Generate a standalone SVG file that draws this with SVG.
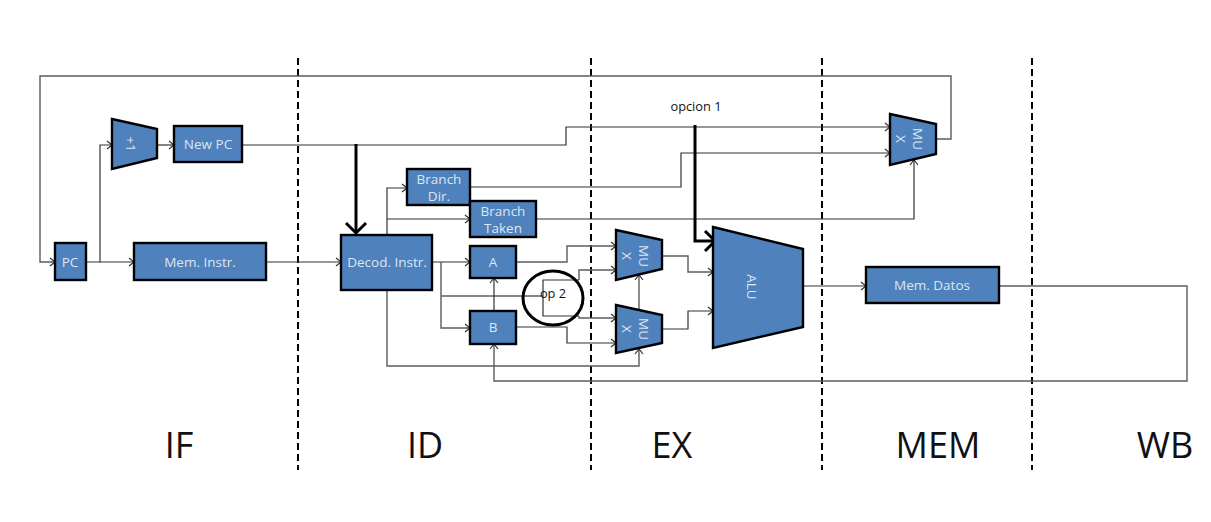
<svg xmlns="http://www.w3.org/2000/svg" width="1211" height="522" viewBox="0 0 1211 522">
<style>
.n{fill:#4f81bd;stroke:#000;stroke-width:2.4;stroke-linejoin:miter}
.t{font-family:"Open Sans","Liberation Sans",sans-serif;font-size:13.5px;fill:#dce6f2;text-anchor:middle}
.w{fill:none;stroke:#333;stroke-width:1.2;marker-end:url(#a)}
.p{fill:none;stroke:#333;stroke-width:1.2}
.g{stroke:#5c5c5c;stroke-width:1.4}
.d{fill:none;stroke:#000;stroke-width:2;stroke-dasharray:7 4}
.h{fill:none;stroke:#000;stroke-width:3}
.s{font-family:"Open Sans","Liberation Sans",sans-serif;font-size:36px;fill:#111;text-anchor:middle}
.l{font-family:"Open Sans","Liberation Sans",sans-serif;font-size:12.8px;fill:#111;text-anchor:middle}
</style>
<defs>
<marker id="a" markerUnits="userSpaceOnUse" markerWidth="9" markerHeight="10" refX="8" refY="5" orient="auto"><path d="M3 1L8 5L3 9" fill="none" stroke="#333" stroke-width="1.2"/></marker>
<marker id="b" markerUnits="userSpaceOnUse" markerWidth="24" markerHeight="24" refX="20" refY="12" orient="auto"><path d="M10 2L20 12L10 22" fill="none" stroke="#000" stroke-width="3"/></marker>
</defs>
<g id="stage-lines">
<path class="d" d="M298 58V470M591 58V470M822 58V470M1032 58V470"/>
</g>
<g id="connectors">
<path class="w g" d="M936 139H951V76H40V262H55"/>
<path class="w" d="M86 262H100V145H112"/>
<path class="w" d="M100 262H134"/>
<path class="w" d="M157 145H174"/>
<path class="w" d="M242 145H566V127H890"/>
<path class="w" d="M266 262H341"/>
<path class="w" d="M387 235V188H407"/>
<path class="w" d="M387 219H470"/>
<path class="w" d="M470 187H681V153H890"/>
<path class="w" d="M536 219H914V160"/>
<path class="w" d="M432 262H470"/>
<path class="w g" d="M441 262V328H470"/>
<path class="p g" d="M441 296H543"/>
<path class="w g" d="M579 280V270H616"/>
<path class="p" d="M579 280H543V316H579"/>
<path class="w g" d="M579 316V318H616"/>
<path class="w g" d="M516 262H567V246H616"/>
<path class="w" d="M516 327H567V343H616"/>
<path class="w" d="M494 311V278"/>
<path class="w g" d="M387 290V366H639V349"/>
<path class="w g" d="M639 309V275"/>
<path class="w g" d="M662 256H688V272H713"/>
<path class="w" d="M662 329H688V311H713"/>
<path class="w" d="M803 286H866"/>
<path class="w g" d="M999 286H1187V381H494V344"/>
<path d="M356 144V233" class="h" marker-end="url(#b)"/>
<path d="M695 125V241H715" class="h" marker-end="url(#b)"/>
<ellipse cx="553" cy="298" rx="30" ry="27" fill="none" stroke="#000" stroke-width="3"/>
</g>
<g id="pc"><rect class="n" x="55" y="243" width="31" height="37"/><text class="t" x="70" y="266.500">PC</text></g>
<g id="inc"><polygon class="n" points="112,119 157,129 157,158 112,169"/><text class="t" transform="translate(131,144) rotate(90)" y="5">+1</text></g>
<g id="newpc"><rect class="n" x="174" y="126" width="68" height="36"/><text class="t" x="208" y="149">New PC</text></g>
<g id="meminstr"><rect class="n" x="134" y="243" width="132" height="37"/><text class="t" x="200" y="266.500">Mem. Instr.</text></g>
<g id="decod"><rect class="n" x="341" y="235" width="91" height="55"/><text class="t" x="387" y="266.500">Decod. Instr.</text></g>
<g id="branchdir"><rect class="n" x="407" y="169" width="63" height="36"/><text class="t" x="439" y="184">Branch</text><text class="t" x="439" y="201">Dir.</text></g>
<g id="branchtaken"><rect class="n" x="470" y="201" width="66" height="36"/><text class="t" x="503" y="216">Branch</text><text class="t" x="503" y="233">Taken</text></g>
<g id="a-reg"><rect class="n" x="470" y="246" width="46" height="32"/><text class="t" x="493" y="267">A</text></g>
<g id="b-reg"><rect class="n" x="470" y="311" width="46" height="33"/><text class="t" x="493" y="332">B</text></g>
<g id="mux-a"><polygon class="n" points="616,230 662,240 662,269 616,280"/><text class="t" transform="translate(639,256) rotate(90)"><tspan x="0" y="0">MU</tspan><tspan x="0" y="17">X</tspan></text></g>
<g id="mux-b"><polygon class="n" points="616,305 662,315 662,343 616,353"/><text class="t" transform="translate(639,329) rotate(90)"><tspan x="0" y="0">MU</tspan><tspan x="0" y="17">X</tspan></text></g>
<g id="mux-pc"><polygon class="n" points="890,114 936,124 936,154 890,165"/><text class="t" transform="translate(913,139) rotate(90)"><tspan x="0" y="0">MU</tspan><tspan x="0" y="17">X</tspan></text></g>
<g id="alu"><polygon class="n" points="713,227 803,249 803,327 713,348"/><text class="t" transform="translate(752,287) rotate(90)" y="5">ALU</text></g>
<g id="memdatos"><rect class="n" x="866" y="267" width="133" height="36"/><text class="t" x="932" y="290">Mem. Datos</text></g>
<g id="labels">
<text class="l" x="696" y="110.500">opcion 1</text>
<text class="l" x="553" y="298">op 2</text>
<text class="s" x="179" y="458">IF</text>
<text class="s" x="425" y="458">ID</text>
<text class="s" x="672" y="458">EX</text>
<text class="s" x="938" y="458">MEM</text>
<text class="s" x="1165" y="458">WB</text>
</g>
</svg>
